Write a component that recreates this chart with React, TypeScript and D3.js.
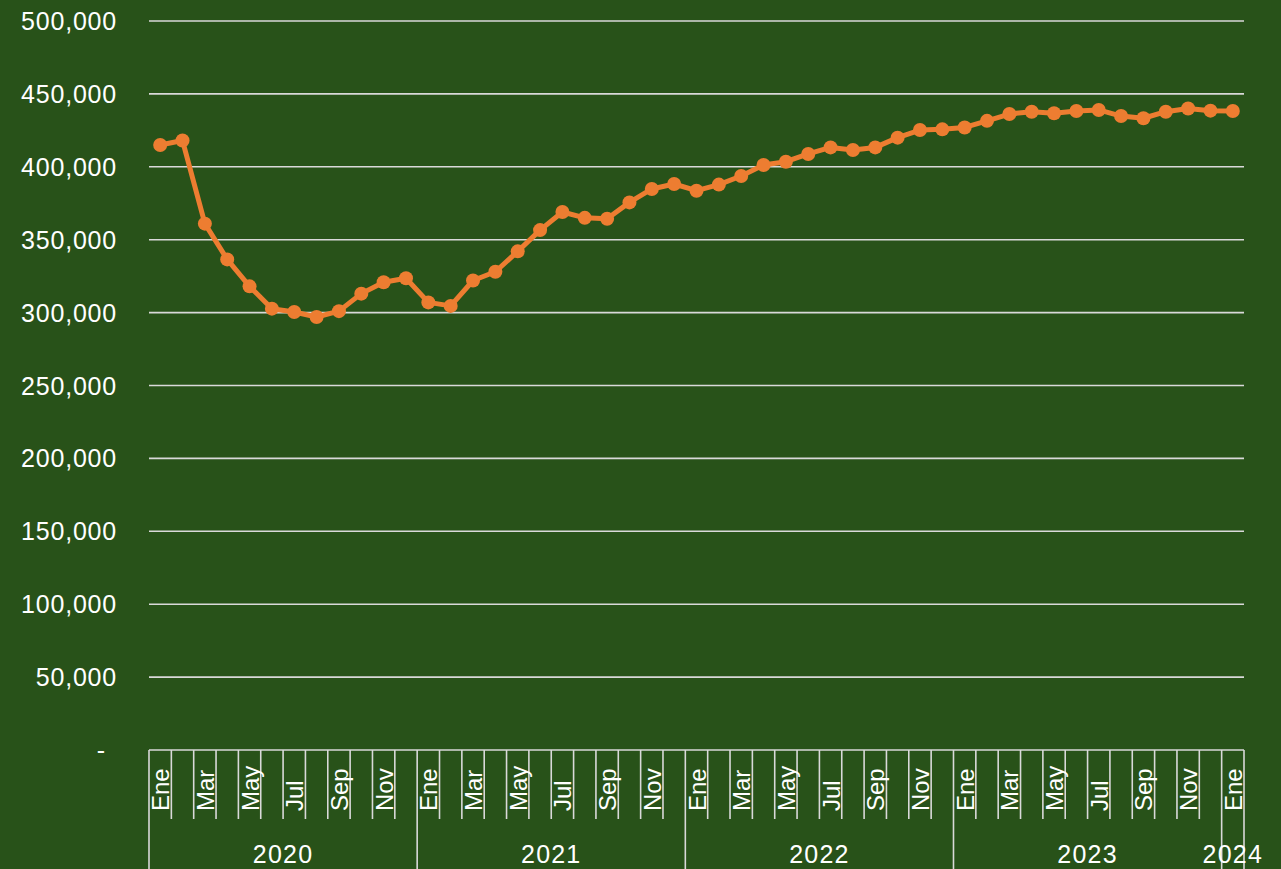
import { useEffect, useRef } from 'react';
import * as d3 from 'd3';

// monthly values, Ene 2020 .. Ene 2024
const values = [
  415000, 418000, 361000, 336500, 318000, 302700, 300400, 297000, 301000, 313000, 320800, 323600,
  307000, 304600, 322000, 328000, 342000, 356600, 369000, 365000, 364400, 375600, 384800, 388200,
  383600, 387800, 393700, 401200, 403500, 408800, 413300, 411500, 413300, 420000, 425200, 425700,
  427000, 431500, 436200, 437800, 436700, 438300, 439000, 434800, 433300, 437800, 440000, 438500,
  438300,
];

const monthNames = ['Ene', 'Feb', 'Mar', 'Abr', 'May', 'Jun', 'Jul', 'Ago', 'Sep', 'Oct', 'Nov', 'Dic'];
const years = ['2020', '2021', '2022', '2023', '2024'];
const monthsPerYear = [12, 12, 12, 12, 1];
const yTicks = [0, 50000, 100000, 150000, 200000, 250000, 300000, 350000, 400000, 450000, 500000];

const W = 1281;
const H = 869;
const BG = '#285219';
const GRID = '#d9d9d9';
const ORANGE = '#ED7D31';
const FONT = '"Liberation Sans", Arial, sans-serif';

export default function App() {
  const svgRef = useRef<SVGSVGElement>(null);

  useEffect(() => {
    document.body.style.margin = '0';
    if (!svgRef.current) return;
    const svg = d3.select(svgRef.current);
    svg.selectAll('*').remove();

    const left = 149;
    const right = 1244;
    const top = 21;
    const bottom = 750;

    const idx = values.map((_, i) => i);
    const x = d3.scaleBand<number>().domain(idx).range([left, right]).padding(0);
    const y = d3.scaleLinear().domain([0, 500000]).range([bottom, top]);
    const cx = (i: number) => (x(i) || 0) + x.bandwidth() / 2;

    svg.append('rect').attr('width', W).attr('height', H).attr('fill', BG);

    // grid lines
    svg.append('g')
      .selectAll('line')
      .data(yTicks.filter(d => d > 0))
      .join('line')
      .attr('x1', left)
      .attr('x2', right)
      .attr('y1', d => y(d))
      .attr('y2', d => y(d))
      .attr('stroke', GRID)
      .attr('stroke-width', 1.6);

    // y labels
    const fmt = d3.format(',');
    svg.append('g')
      .selectAll('text')
      .data(yTicks)
      .join('text')
      .attr('x', d => (d === 0 ? 106 : 117))
      .attr('y', d => y(d) + 9)
      .attr('text-anchor', 'end')
      .style('font-family', FONT)
      .style('font-size', '25px')
      .style('letter-spacing', '0.8px')
      .style('fill', '#ffffff')
      .text(d => (d === 0 ? '-' : fmt(d)));

    // x axis line
    svg.append('line')
      .attr('x1', left).attr('x2', right)
      .attr('y1', bottom).attr('y2', bottom)
      .attr('stroke', GRID).attr('stroke-width', 1.6);

    // year boundaries
    const starts: number[] = [];
    let acc = 0;
    monthsPerYear.forEach(n => { starts.push(acc); acc += n; });
    const boundaries = new Set<number>(starts);

    // category ticks
    const edges = d3.range(values.length + 1);
    svg.append('g')
      .selectAll('line')
      .data(edges)
      .join('line')
      .attr('x1', d => left + d * x.bandwidth())
      .attr('x2', d => left + d * x.bandwidth())
      .attr('y1', bottom)
      .attr('y2', d => (boundaries.has(d) || d === values.length ? H : 819))
      .attr('stroke', GRID)
      .attr('stroke-width', 1.6);

    // month labels (every other month)
    svg.append('g')
      .selectAll('text')
      .data(idx.filter(i => i % 2 === 0))
      .join('text')
      .attr('transform', i => `translate(${cx(i) + 9},811) rotate(-90)`)
      .attr('text-anchor', 'start')
      .style('font-family', FONT)
      .style('font-size', '24px')
      .style('fill', '#ffffff')
      .text(i => monthNames[i % 12]);

    // year labels
    svg.append('g')
      .selectAll('text')
      .data(years)
      .join('text')
      .attr('x', (_, k) => left + (starts[k] + monthsPerYear[k] / 2) * x.bandwidth())
      .attr('y', 863)
      .attr('text-anchor', 'middle')
      .style('font-family', FONT)
      .style('font-size', '25px')
      .style('letter-spacing', '1.2px')
      .style('fill', '#ffffff')
      .text(d => d);

    // series line
    const line = d3.line<number>()
      .x((_, i) => cx(i))
      .y(d => y(d));

    svg.append('path')
      .datum(values)
      .attr('fill', 'none')
      .attr('stroke', ORANGE)
      .attr('stroke-width', 5)
      .attr('stroke-linejoin', 'round')
      .attr('d', line);

    svg.append('g')
      .selectAll('circle')
      .data(values)
      .join('circle')
      .attr('cx', (_, i) => cx(i))
      .attr('cy', d => y(d))
      .attr('r', 7)
      .attr('fill', ORANGE);
  }, []);

  return <svg ref={svgRef} width={W} height={H} style={{ display: 'block' }} />;
}
